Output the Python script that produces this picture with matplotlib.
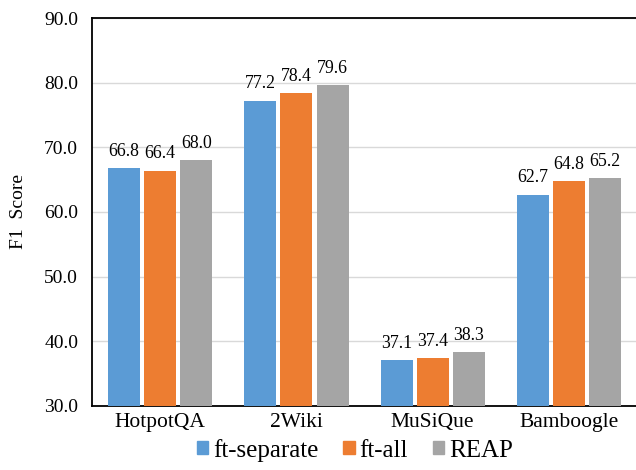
import numpy as np
import matplotlib.pyplot as plt
from matplotlib.patches import Patch

datasets = ["HotpotQA", "2Wiki", "MuSiQue", "Bamboogle"]
methods = ["ft-separate", "ft-all", "REAP"]
ft_separate = [66.8, 77.2, 37.1, 62.7]
ft_all = [66.4, 78.4, 37.4, 64.8]
reap = [68.0, 79.6, 38.3, 65.2]
yticks = [30, 40, 50, 60, 70, 80, 90]

colors = ["#5B9BD5", "#ED7D31", "#A5A5A5"]
serif = ["Liberation Serif", "DejaVu Serif"]

fig = plt.figure(figsize=(6.36, 4.70), dpi=100)
ax = fig.add_axes([0.1447, 0.1362, 0.857, 0.8255])

x = np.arange(len(datasets))
step = 0.265
width = 0.235
for i, (vals, c) in enumerate(zip([ft_separate, ft_all, reap], colors)):
    bars = ax.bar(x + (i - 1) * step, vals, width, color=c, zorder=3)
    for b, v in zip(bars, vals):
        ax.annotate(f"{v:.1f}", (b.get_x() + b.get_width() / 2, v),
                    xytext=(0, 6), textcoords="offset points",
                    ha="center", va="bottom", fontsize=12.8, family=serif)

ax.set_xlim(-0.5, 3.5)
ax.set_ylim(30, 90)
ax.set_yticks(yticks)
ax.set_yticklabels([f"{t:.1f}" for t in yticks], family=serif, fontsize=14)
ax.set_xticks(x)
ax.set_xticklabels(datasets, family=serif, fontsize=15.5)
ax.tick_params(axis="y", length=0, pad=10)
ax.tick_params(axis="x", length=0, pad=5)
ax.yaxis.grid(True, color="#D9D9D9", lw=1, zorder=0)
ax.set_axisbelow(True)
ax.spines["right"].set_visible(False)
for s in ["left", "top", "bottom"]:
    ax.spines[s].set_color("black")
    ax.spines[s].set_linewidth(1.3)
ax.set_ylabel("F1  Score", family=serif, fontsize=14, labelpad=12)

handles = [Patch(color=c) for c in colors]
fig.legend(handles, methods, loc="lower center", bbox_to_anchor=(0.558, -0.03),
           ncol=3, frameon=False, prop={"family": serif, "size": 18},
           handlelength=0.45, handleheight=0.45, handletextpad=0.2, columnspacing=1.0)

fig.savefig("out.png", dpi=100)
